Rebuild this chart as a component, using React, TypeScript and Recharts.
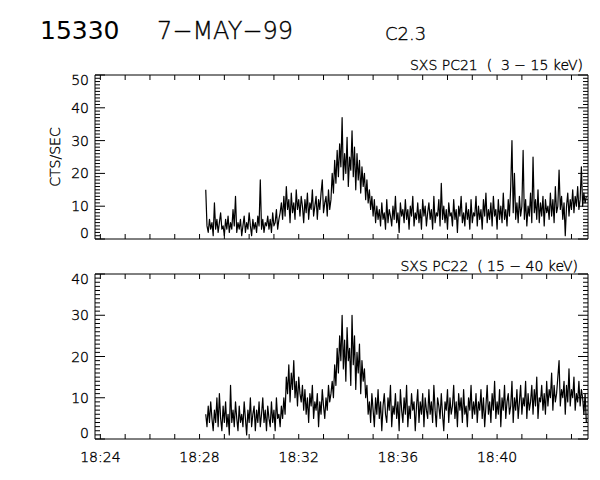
import React from "react"
import { LineChart, Line, XAxis, YAxis } from "recharts"

// seconds after 18:24:00 of the first sample, and the sample spacing
const START_SEC = 255
const STEP_SEC = 3

// SXS PC21 (3 - 15 keV), counts/sec
const pc21Counts = [
  15, 4, 2, 6, 3, 5, 1, 11, 3, 6,
  2, 5, 8, 3, 4, 1, 6, 3, 7, 2,
  5, 3, 9, 4, 13, 2, 5, 3, 6, 1,
  4, 7, 2, 5, 3, 8, 4, 1, 6, 3,
  5, 2, 7, 4, 18, 3, 6, 2, 5, 4,
  7, 3, 6, 2, 8, 4, 5, 9, 3, 6,
  8, 11, 6, 13, 7, 16, 9, 12, 5, 14,
  8, 11, 6, 15, 9, 12, 7, 13, 10, 5,
  12, 8, 14, 6, 11, 9, 15, 7, 10, 13,
  6, 12, 9, 14, 18, 8, 11, 13, 7, 15,
  9, 12, 20, 14, 24, 17, 27, 19, 29, 22,
  37, 18, 26, 20, 31, 16, 25, 21, 33, 19,
  28, 15, 26, 18, 24, 14, 22, 16, 20, 12,
  18, 11, 15, 9, 13, 7, 12, 5, 10, 6,
  9, 4, 11, 6, 8, 3, 12, 5, 9, 7,
  4, 10, 6, 13, 5, 8, 2, 11, 7, 9,
  5, 12, 6, 9, 3, 10, 7, 13, 4, 8,
  6, 11, 5, 9, 3, 12, 7, 10, 4, 8,
  11, 6, 9, 3, 13, 5, 8, 7, 12, 4,
  17, 6, 10, 5, 9, 3, 11, 7, 8, 4,
  12, 6, 9, 2, 10, 7, 13, 5, 8, 4,
  11, 6, 9, 3, 12, 5, 8, 7, 13, 4,
  10, 6, 9, 3, 12, 7, 14, 5, 9, 6,
  11, 4, 13, 7, 9, 3, 12, 6, 10, 5,
  14, 6, 9, 4, 12, 7, 16, 30, 8, 20,
  6, 11, 5, 13, 7, 10, 27, 6, 12, 4,
  10, 7, 14, 5, 25, 8, 12, 6, 15, 5,
  11, 7, 13, 4, 12, 8, 10, 6, 14, 7,
  12, 5, 16, 8, 10, 21, 9, 13, 6, 11,
  1, 10, 14, 7, 12, 9, 15, 8, 13, 10,
  16, 9, 12, 22, 10, 14, 11, 13,
]

// SXS PC22 (15 - 40 keV), counts/sec
const pc22Counts = [
  6, 3, 8, 4, 9, 5, 2, 7, 4, 10,
  3, 11, 5, 2, 8, 4, 9, 3, 6, 1,
  13, 4, 7, 3, 9, 5, 2, 8, 4, 6,
  3, 9, 5, 1, 7, 4, 10, 3, 6, 8,
  2, 7, 4, 9, 3, 6, 10, 4, 7, 2,
  8, 5, 3, 9, 4, 7, 2, 10, 5, 6,
  3, 8, 5, 10, 6, 15, 11, 18, 9, 16,
  12, 19, 10, 14, 8, 15, 11, 9, 13, 7,
  12, 6, 10, 4, 11, 8, 13, 5, 9, 7,
  11, 3, 9, 6, 12, 8, 5, 10, 7, 13,
  9, 11, 14, 10, 18, 13, 22, 16, 25, 19,
  30, 17, 24, 14, 27, 19, 22, 13, 30, 18,
  25, 12, 21, 16, 23, 11, 19, 14, 17, 10,
  13, 6, 9, 4, 11, 7, 3, 10, 6, 12,
  5, 9, 2, 8, 11, 6, 4, 10, 7, 13,
  3, 8, 6, 11, 5, 9, 2, 12, 7, 4,
  10, 6, 13, 3, 8, 5, 11, 7, 9, 2,
  8, 12, 4, 9, 6, 11, 3, 10, 7, 5,
  12, 6, 9, 4, 13, 7, 3, 10, 8, 5,
  11, 6, 2, 9, 7, 12, 4, 10, 6, 8,
  13, 5, 9, 3, 11, 7, 10, 4, 12, 6,
  8, 3, 10, 7, 13, 5, 9, 6, 11, 4,
  9, 7, 12, 5, 10, 3, 8, 13, 6, 9,
  4, 11, 7, 14, 5, 9, 6, 12, 3, 10,
  7, 13, 5, 9, 11, 6, 8, 14, 4, 10,
  7, 12, 5, 9, 13, 6, 10, 8, 14, 5,
  11, 7, 9, 13, 6, 12, 8, 15, 5, 10,
  9, 13, 7, 11, 6, 14, 8, 12, 10, 16,
  7, 13, 9, 11, 15, 19, 8, 12, 10, 14,
  6, 13, 9, 17, 8, 12, 10, 15, 7, 11,
  9, 14, 8, 12, 10, 6, 11, 4,
]

// minute ticks (seconds after 18:24) and the labelled ones
const minuteTicks = [0, 60, 120, 180, 240, 300, 360, 420, 480, 540, 600, 660, 720, 780, 840, 900, 960, 1020, 1080, 1140]
const timeLabels: Record<number, string> = {
  0: "18:24",
  240: "18:28",
  480: "18:32",
  720: "18:36",
  960: "18:40",
}

const X_DOMAIN: [number, number] = [-13, 1180]
const FONT = "'DejaVu Sans', 'Liberation Sans', sans-serif"
// thin vector-font look: extra-light face with a hairline stroke to keep it black
const thin = { fontFamily: FONT, fontWeight: 200, fill: "#000", stroke: "#000", strokeWidth: 0.35 }

const rows = pc21Counts.map((v, i) => ({
  t: START_SEC + i * STEP_SEC,
  pc21: v,
  pc22: pc22Counts[i],
}))

const unitTicks = (max: number) => Array.from({ length: max + 1 }, (_, i) => i)

function BottomTick(props: any) {
  const { x, y, payload, showLabel } = props
  const label = timeLabels[payload.value]
  return (
    <g>
      <line x1={x} y1={y} x2={x} y2={y - 5} stroke="#000" />
      {showLabel && label && (
        <text x={x} y={y + 23} textAnchor="middle" fontSize={14} {...thin}>
          {label}
        </text>
      )}
    </g>
  )
}

function TopTick(props: any) {
  const { x, y } = props
  return <line x1={x} y1={y} x2={x} y2={y + 5} stroke="#000" />
}

function LeftTick(props: any) {
  const { x, y, payload, max } = props
  const v = payload.value
  const major = v % 10 === 0
  let base = y + 5
  if (v === max) base = y + 10
  if (v === 0) base = y - 1
  return (
    <g>
      <line x1={x} y1={y} x2={x + (major ? 10 : 5)} y2={y} stroke="#000" />
      {major && (
        <text x={x - 6} y={base} textAnchor="end" fontSize={14} {...thin}>
          {v}
        </text>
      )}
    </g>
  )
}

function RightTick(props: any) {
  const { x, y, payload } = props
  const major = payload.value % 10 === 0
  return <line x1={x} y1={y} x2={x - (major ? 10 : 5)} y2={y} stroke="#000" />
}

function Panel({
  dataKey,
  max,
  height,
  margin,
  showLabels,
}: {
  dataKey: string
  max: number
  height: number
  margin: { top: number; right: number; bottom: number; left: number }
  showLabels: boolean
}) {
  const yTicks = unitTicks(max)
  return (
    <LineChart width={600} height={height} data={rows} margin={margin}>
      <XAxis
        xAxisId="b"
        dataKey="t"
        type="number"
        domain={X_DOMAIN}
        allowDataOverflow
        ticks={minuteTicks}
        interval={0}
        height={1}
        tickSize={0}
        tickMargin={0}
        tickLine={false}
        axisLine={{ stroke: "#000" }}
        tick={(p: any) => <BottomTick {...p} showLabel={showLabels} />}
      />
      <XAxis
        xAxisId="t"
        orientation="top"
        dataKey="t"
        type="number"
        domain={X_DOMAIN}
        allowDataOverflow
        ticks={minuteTicks}
        interval={0}
        height={1}
        tickSize={0}
        tickMargin={0}
        tickLine={false}
        axisLine={{ stroke: "#000" }}
        tick={(p: any) => <TopTick {...p} />}
      />
      <YAxis
        yAxisId="l"
        type="number"
        domain={[0, max]}
        allowDataOverflow
        ticks={yTicks}
        interval={0}
        width={1}
        tickSize={0}
        tickMargin={0}
        tickLine={false}
        axisLine={{ stroke: "#000" }}
        tick={(p: any) => <LeftTick {...p} max={max} />}
      />
      <YAxis
        yAxisId="r"
        orientation="right"
        type="number"
        domain={[0, max]}
        allowDataOverflow
        ticks={yTicks}
        interval={0}
        width={1}
        tickSize={0}
        tickMargin={0}
        tickLine={false}
        axisLine={{ stroke: "#000" }}
        tick={(p: any) => <RightTick {...p} />}
      />
      <Line
        xAxisId="b"
        yAxisId="l"
        dataKey={dataKey}
        type="linear"
        stroke="#000"
        strokeWidth={1.2}
        strokeLinejoin="round"
        dot={false}
        isAnimationActive={false}
      />
      <Line
        xAxisId="t"
        yAxisId="r"
        dataKey={dataKey}
        stroke="none"
        dot={false}
        isAnimationActive={false}
      />
    </LineChart>
  )
}

export default function App() {
  return (
    <div style={{ position: "absolute", left: 0, top: 0, width: 600, height: 480, background: "#fff" }}>
      <div style={{ position: "absolute", left: 0, top: 0 }}>
        <Panel dataKey="pc21" max={50} height={250} margin={{ top: 74, right: 11, bottom: 10, left: 94 }} showLabels={false} />
      </div>
      <div style={{ position: "absolute", left: 0, top: 250 }}>
        <Panel dataKey="pc22" max={40} height={230} margin={{ top: 23, right: 11, bottom: 40, left: 94 }} showLabels={true} />
      </div>
      <svg width={600} height={480} style={{ position: "absolute", left: 0, top: 0, pointerEvents: "none" }}>
        <text x={40} y={39} fontSize={25} fontFamily={FONT} fill="#000">15330</text>
        <text x={157} y={39} fontSize={24} {...thin}>7−MAY−99</text>
        <text x={385} y={40} fontSize={18} {...thin}>C2.3</text>
        <text x={583} y={70} textAnchor="end" fontSize={14} {...thin} xmlSpace="preserve">
          SXS PC21  (  3 − 15 keV)
        </text>
        <text x={578} y={271} textAnchor="end" fontSize={14} {...thin} xmlSpace="preserve">
          SXS PC22  ( 15 − 40 keV)
        </text>
        <text x={0} y={0} transform="translate(60,157) rotate(-90)" textAnchor="middle" fontSize={14} {...thin}>
          CTS/SEC
        </text>
      </svg>
    </div>
  )
}
